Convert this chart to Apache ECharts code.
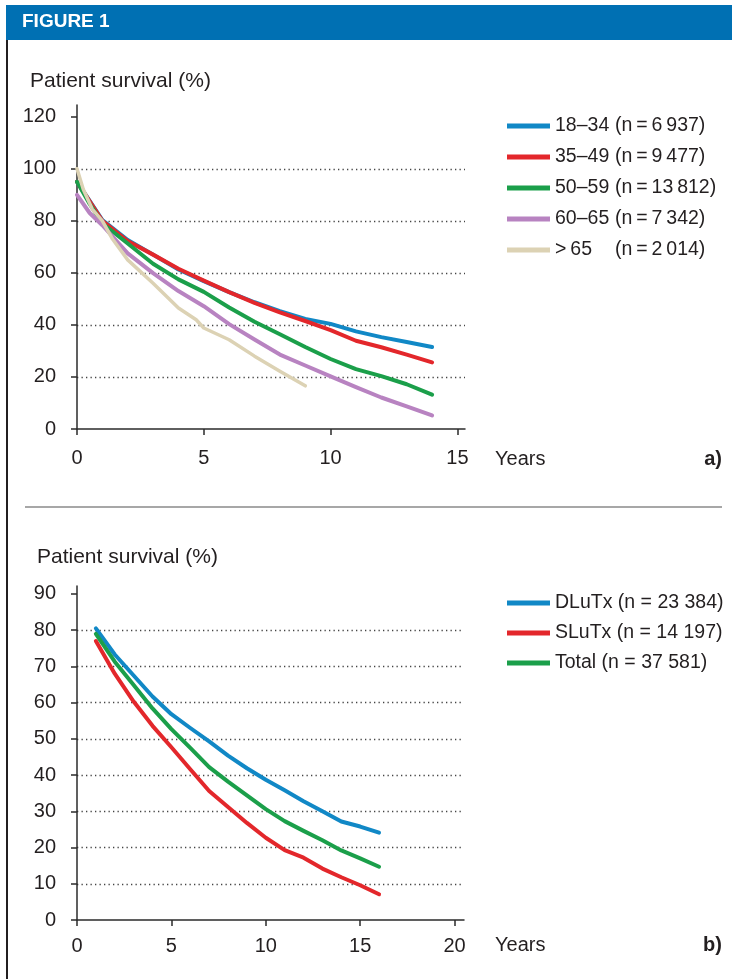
<!DOCTYPE html>
<html>
<head>
<meta charset="utf-8">
<script src="https://cdn.jsdelivr.net/npm/echarts@6/dist/echarts.min.js"></script>
<style>
html,body{margin:0;padding:0;background:#fff;}
#chart{width:732px;height:979px;}
</style>
</head>
<body>
<div id="chart"></div>
<script>
// ---------- Panel a data ----------
const namesA = ['18–34', '35–49', '50–59', '60–65', '>\u200965'];
const countsA = ['6\u2009937', '9\u2009477', '13\u2009812', '7\u2009342', '2\u2009014'];
const yearsA = [0, 0.5, 1, 2, 3, 4, 5, 6, 7, 8, 9, 10, 11, 12, 13, 14];
const a18_34 = [95, 87.7, 80.3, 72.6, 67, 61.3, 56.8, 52.6, 48.7, 45.3, 42.3, 40.4, 37.5, 35.3, 33.4, 31.5];
const a35_49 = [95, 87.5, 80, 72.2, 67, 61.6, 57, 52.6, 48.5, 44.8, 41.5, 38, 33.9, 31.4, 28.6, 25.6];
const a50_59 = [95, 86.5, 79, 71.3, 63.5, 57.5, 52.7, 46.7, 41.2, 36.4, 31.5, 26.9, 23, 20.3, 17.2, 13.2];
const a60_65 = [90, 83, 78.3, 67.5, 59.9, 53, 47.2, 40.3, 34.4, 28.6, 24.4, 20.2, 16.1, 12.1, 8.7, 5.2];
const yearsA65 = [0, 0.25, 0.6, 1, 1.4, 2, 3, 4, 4.7, 5, 6, 7, 8, 9];
const a65plus = [100, 92, 84.5, 80, 73, 65, 56, 46.5, 42, 38.8, 34.3, 28, 22.2, 16.6];
const xTicksA = [0, 5, 10, 15];
const yTicksA = [0, 20, 40, 60, 80, 100, 120];

// ---------- Panel b data ----------
const namesB = ['DLuTx', 'SLuTx', 'Total'];
const countsB = ['23 384', '14 197', '37 581'];
const yearsB = [1, 2, 3, 4, 5, 6, 7, 8, 9, 10, 11, 12, 13, 14, 15, 16];
const bDLuTx = [80.5, 73.3, 67.5, 61.7, 56.8, 53, 49.3, 45.4, 41.9, 38.7, 35.8, 32.8, 30, 27.2, 25.8, 24.1];
const bSLuTx = [77, 68, 60.3, 53.6, 47.7, 41.6, 35.6, 31.2, 26.8, 22.7, 19.3, 17.2, 14.2, 11.8, 9.6, 7.1];
const bTotal = [79, 71.3, 64.9, 58.4, 52.7, 47.5, 42.2, 38.2, 34.4, 30.6, 27.3, 24.6, 22, 19.2, 17, 14.7];
const xTicksB = [0, 5, 10, 15, 20];
const yTicksB = [0, 10, 20, 30, 40, 50, 60, 70, 80, 90];

const colors = {
  blue: '#1188c6', red: '#e3272b', green: '#1b9f4a', purple: '#b883c1', beige: '#dcd2b4'
};
const FONT = '"Liberation Sans", Arial, Helvetica, sans-serif';
const TXT = '#231f20';

function pairs(xs, ys) { return xs.map((x, i) => [x, ys[i]]); }

function xAxisCfg(gridIndex, max, interval, ticks, margin) {
  return {
    type: 'value', gridIndex, min: 0, max, interval,
    axisLine: { show: true, onZero: false, lineStyle: { color: '#2b2b2b', width: 1.5 } },
    axisTick: { show: true, length: 6, inside: false, customValues: ticks, lineStyle: { color: '#2b2b2b', width: 1.5 } },
    axisLabel: { customValues: ticks, margin, color: TXT, fontFamily: FONT, fontSize: 20 },
    splitLine: { show: false }
  };
}
function yAxisCfg(gridIndex, max, interval, ticks) {
  return {
    type: 'value', gridIndex, min: 0, max, interval,
    axisLine: { show: true, onZero: false, lineStyle: { color: '#2b2b2b', width: 1.5 } },
    axisTick: { show: true, length: 6, inside: false, customValues: ticks, lineStyle: { color: '#2b2b2b', width: 1.5 } },
    axisLabel: { customValues: ticks, margin: 21, color: TXT, fontFamily: FONT, fontSize: 20 },
    splitLine: { show: true, showMinLine: false, showMaxLine: false,
      lineStyle: { color: '#444', width: 1.3, type: [1.3, 3.2] } }
  };
}
function lineSeries(name, data, color, xi, yi, w) {
  return {
    name, type: 'line', xAxisIndex: xi, yAxisIndex: yi, data,
    showSymbol: false, symbol: 'none', smooth: false, animation: false,
    lineStyle: { color, width: w || 4, cap: 'round', join: 'round' },
    itemStyle: { color }
  };
}

const chart = echarts.init(document.getElementById('chart'), null, { renderer: 'canvas' });
const option = {
  animation: false,
  backgroundColor: '#fff',
  grid: [
    { left: 77, right: 267, top: 105, bottom: 550, containLabel: false },
    { left: 77, right: 268, top: 586, bottom: 59, containLabel: false }
  ],
  xAxis: [
    xAxisCfg(0, 15.3, 5, xTicksA, 19),
    xAxisCfg(1, 20.5, 5, xTicksB, 16)
  ],
  yAxis: [
    yAxisCfg(0, 124.5, 20, yTicksA),
    yAxisCfg(1, 92.2, 10, yTicksB)
  ],
  legend: [
    {
      data: namesA, orient: 'vertical', left: 502, top: 109,
      itemWidth: 43, itemHeight: 5, itemGap: 7, icon: 'rect',
      textStyle: { fontFamily: FONT, fontSize: 19.5, color: TXT, lineHeight: 24,
        rich: { a: { width: 60, fontFamily: FONT, fontSize: 19.5, color: TXT }, b: { fontFamily: FONT, fontSize: 19.5, color: TXT } } },
      formatter: (name) => {
        const i = namesA.indexOf(name);
        return '{a|' + name + '}{b|(n\u2009=\u2009' + countsA[i] + ')}';
      },
      selectedMode: false
    },
    {
      data: namesB, orient: 'vertical', left: 502, top: 586,
      itemWidth: 43, itemHeight: 5, itemGap: 6, icon: 'rect',
      textStyle: { fontFamily: FONT, fontSize: 19.5, color: TXT, lineHeight: 24 },
      formatter: (name) => {
        const i = namesB.indexOf(name);
        return name + ' (n = ' + countsB[i] + ')';
      },
      selectedMode: false
    }
  ],
  series: [
    lineSeries(namesA[0], pairs(yearsA, a18_34), colors.blue, 0, 0),
    lineSeries(namesA[1], pairs(yearsA, a35_49), colors.red, 0, 0),
    lineSeries(namesA[2], pairs(yearsA, a50_59), colors.green, 0, 0),
    lineSeries(namesA[3], pairs(yearsA, a60_65), colors.purple, 0, 0),
    lineSeries(namesA[4], pairs(yearsA65, a65plus), colors.beige, 0, 0, 3.5),
    lineSeries(namesB[0], pairs(yearsB, bDLuTx), colors.blue, 1, 1),
    lineSeries(namesB[1], pairs(yearsB, bSLuTx), colors.red, 1, 1),
    lineSeries(namesB[2], pairs(yearsB, bTotal), colors.green, 1, 1)
  ],
  graphic: [
    { type: 'rect', shape: { x: 6, y: 5, width: 726, height: 35 }, style: { fill: '#0070b3' }, silent: true },
    { type: 'text', left: 22, top: 12, style: { text: 'FIGURE 1', fill: '#fff', font: 'bold 19px ' + FONT } },
    { type: 'line', shape: { x1: 7, y1: 40, x2: 7, y2: 979 }, style: { stroke: '#231f20', lineWidth: 2 } },
    { type: 'line', shape: { x1: 25, y1: 507, x2: 722, y2: 507 }, style: { stroke: '#8a8a8a', lineWidth: 1.5 } },
    { type: 'text', left: 30, top: 71, style: { text: 'Patient survival (%)', fill: TXT, font: '21px ' + FONT } },
    { type: 'text', left: 37, top: 547, style: { text: 'Patient survival (%)', fill: TXT, font: '21px ' + FONT } },
    { type: 'text', left: 495, top: 449, style: { text: 'Years', fill: TXT, font: '20px ' + FONT } },
    { type: 'text', left: 495, top: 935, style: { text: 'Years', fill: TXT, font: '20px ' + FONT } },
    { type: 'text', right: 10, top: 449, style: { text: 'a)', fill: TXT, font: 'bold 20px ' + FONT } },
    { type: 'text', right: 10, top: 935, style: { text: 'b)', fill: TXT, font: 'bold 20px ' + FONT } }
  ]
};
chart.setOption(option);
</script>
</body>
</html>
